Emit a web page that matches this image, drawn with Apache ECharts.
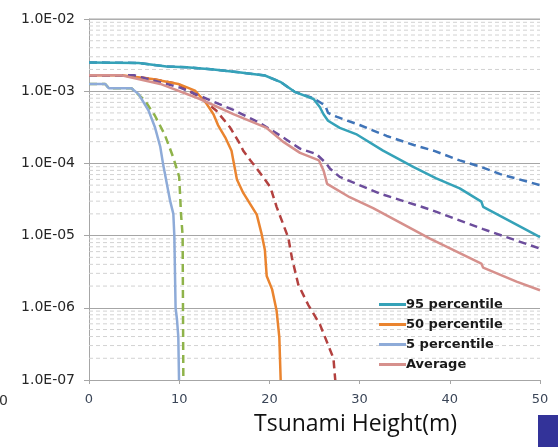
<!DOCTYPE html>
<html>
<head>
<meta charset="utf-8">
<script src="https://cdn.jsdelivr.net/npm/echarts@6/dist/echarts.min.js"></script>
<style>
  html, body { margin: 0; padding: 0; background: #fff; }
  #chart { width: 558px; height: 447px; }
</style>
</head>
<body>
<div id="chart"></div>
<script>
// [tsunami height (m), exceedance probability]
const p95 = [[0,2.5e-3],[5.5,2.46e-3],[8.6,2.2e-3],[10.8,2.15e-3],[13.8,2.0e-3],[16.8,1.82e-3],[19.5,1.65e-3],[21.2,1.35e-3],[22.8,9.8e-4],[24.9,7.8e-4],[25.6,6.0e-4],[26.0,4.8e-4],[26.5,3.9e-4],[27.8,3.1e-4],[29.6,2.55e-4],[32.6,1.5e-4],[36.0,8.9e-5],[38.5,6.2e-5],[41.1,4.5e-5],[43.5,2.95e-5],[43.7,2.5e-5],[50,9.5e-6]];
const p95Dash = [[0,2.5e-3],[5.5,2.46e-3],[8.6,2.2e-3],[10.8,2.15e-3],[13.8,2.0e-3],[16.8,1.82e-3],[19.5,1.65e-3],[21.2,1.35e-3],[22.8,9.8e-4],[24.9,8.0e-4],[26.2,6.3e-4],[26.5,5.0e-4],[27.5,4.4e-4],[30.0,3.4e-4],[33.0,2.4e-4],[36.0,1.8e-4],[38.2,1.5e-4],[41.1,1.1e-4],[43.3,9.1e-5],[45.6,7.1e-5],[50,5.0e-5]];
const p50 = [[0,1.66e-3],[3.6,1.66e-3],[7.0,1.48e-3],[9.9,1.26e-3],[11.75,1.02e-3],[13.0,6.8e-4],[13.8,4.8e-4],[14.3,3.4e-4],[15.1,2.3e-4],[15.8,1.5e-4],[16.0,1.1e-4],[16.4,6.0e-5],[17.1,3.9e-5],[18.6,1.95e-5],[19.1,1.1e-5],[19.5,6.3e-6],[19.7,2.75e-6],[20.3,1.8e-6],[20.8,9.1e-7],[21.1,3.9e-7],[21.25,1e-7]];
const p50Dash = [[0,1.66e-3],[3.6,1.66e-3],[7.0,1.48e-3],[9.9,1.26e-3],[12.3,8.2e-4],[14.1,5.4e-4],[15.6,3.2e-4],[16.7,1.9e-4],[17.1,1.5e-4],[17.9,1.1e-4],[19.3,6.5e-5],[20.1,4.7e-5],[20.8,2.5e-5],[22.1,9.3e-6],[22.5,4.9e-6],[23.2,2.1e-6],[24.3,1.1e-6],[25.6,5.9e-7],[27.1,2.0e-7],[27.3,1e-7]];
const p5 = [[0,1.26e-3],[1.8,1.26e-3],[2.2,1.1e-3],[4.7,1.1e-3],[5.5,9.1e-4],[6.6,5.4e-4],[7.3,3.2e-4],[7.9,1.7e-4],[8.2,1e-4],[8.35,8e-5],[9.0,3e-5],[9.35,2e-5],[9.46,1e-5],[9.6,1.0e-6],[9.75,7e-7],[9.9,4e-7],[9.98,1e-7]];
const p5Dash = [[0,1.26e-3],[1.8,1.26e-3],[2.2,1.1e-3],[4.7,1.1e-3],[6.2,7.4e-4],[7.3,4.6e-4],[8.4,2.5e-4],[9.35,1.2e-4],[10.0,6.5e-5],[10.2,2.0e-5],[10.38,1e-5],[10.46,1e-7]];
const avg = [[0,1.66e-3],[3.6,1.66e-3],[7.9,1.26e-3],[12.3,7.8e-4],[16.0,4.8e-4],[19.7,3.1e-4],[21.5,2.0e-4],[23.4,1.4e-4],[25.5,1.1e-4],[26.0,8e-5],[26.4,5.2e-5],[28.9,3.4e-5],[31.5,2.4e-5],[37.8,9.1e-6],[43.5,4.1e-6],[43.7,3.6e-6],[47.4,2.3e-6],[50,1.75e-6]];
const avgDash = [[0,1.66e-3],[5,1.66e-3],[10.1,1.12e-3],[16.0,5.5e-4],[19.0,3.6e-4],[21.5,2.3e-4],[23.4,1.6e-4],[25.2,1.35e-4],[26.3,1.0e-4],[26.7,8.5e-5],[27.8,6.5e-5],[32.3,3.8e-5],[37.8,2.3e-5],[43.7,1.23e-5],[50,6.6e-6]];

const legendNames = ['95 percentile', '50 percentile', '5 percentile', 'Average'];
const xTicks = [0, 10, 20, 30, 40, 50];

// light dashed grid lines at 2..9 of each decade
const minorValues = [];
for (let e = -7; e < -2; e++) {
  for (let m = 2; m <= 9; m++) minorValues.push(m * Math.pow(10, e));
}

function sci(v) {
  const e = Math.round(Math.log10(v));
  const m = v / Math.pow(10, e);
  const a = Math.abs(e);
  return m.toFixed(1) + 'E' + (e < 0 ? '-' : '+') + (a < 10 ? '0' : '') + a;
}

function line(name, data, color, dashed) {
  return {
    name: name,
    type: 'line',
    data: data,
    showSymbol: false,
    symbol: 'none',
    smooth: false,
    lineStyle: { color: color, width: 2.5, type: dashed ? [8, 5] : 'solid' },
    itemStyle: { color: color },
    z: 3
  };
}

function gridLine(v, style) {
  return {
    name: 'grid',
    type: 'line',
    data: [[0, v], [50, v]],
    symbol: 'none',
    showSymbol: false,
    silent: true,
    z: 1,
    lineStyle: style
  };
}

const minorSeries = minorValues.map(v => gridLine(v, { color: '#d2d2d2', width: 1, type: [4, 3] }));
const topBorder = gridLine(1e-2, { color: '#b0b0b0', width: 1.5, type: 'solid' });

const chart = echarts.init(document.getElementById('chart'));
chart.setOption({
  animation: false,
  grid: { left: 89, right: 18, top: 19, bottom: 67 },
  legend: {
    data: legendNames,
    orient: 'vertical',
    left: 374,
    top: 292,
    itemGap: 5,
    itemWidth: 27,
    itemHeight: 3,
    icon: 'rect',
    textStyle: { fontFamily: 'DejaVu Sans', fontWeight: 'bold', fontSize: 13, color: '#1a1a1a', padding: [0, 0, 0, -5], lineHeight: 15 }
  },
  xAxis: {
    type: 'value',
    min: 0,
    max: 50,
    interval: 10,
    axisLine: { show: true, lineStyle: { color: '#a6a6a6' } },
    axisTick: { show: true, length: 4, lineStyle: { color: '#a6a6a6' } },
    splitLine: { show: false },
    axisLabel: {
      margin: 13,
      fontFamily: 'DejaVu Sans',
      fontSize: 13,
      color: '#3b4658',
      formatter: v => (xTicks.indexOf(v) >= 0 ? String(v) : '')
    }
  },
  yAxis: {
    type: 'log',
    logBase: 10,
    min: 1e-7,
    max: 1e-2,
    axisLine: { show: true, lineStyle: { color: '#a6a6a6' } },
    axisTick: { show: true, length: 5, lineStyle: { color: '#a6a6a6' } },
    splitLine: { show: true, lineStyle: { color: '#a6a6a6', width: 1 } },
    axisLabel: {
      margin: 14,
      fontFamily: 'DejaVu Sans',
      fontSize: 14,
      color: '#262626',
      formatter: v => sci(v)
    }
  },
  graphic: [
    {
      type: 'text', left: 254, top: 413,
      style: { text: 'Tsunami Height(m)', fontFamily: 'Open Sans', fontSize: 23, fill: '#111' }
    },
    {
      type: 'text', left: -1, top: 394,
      style: { text: '0', fontFamily: 'DejaVu Sans', fontSize: 14, fill: '#333' }
    },
    {
      type: 'rect', shape: { x: 538, y: 415, width: 20, height: 32 },
      style: { fill: '#333399' }
    }
  ],
  series: minorSeries.concat([topBorder,
    line('95 percentile dashed', p95Dash, '#3f74b8', true),
    line('95 percentile', p95, '#35a2b8', false),
    line('50 percentile dashed', p50Dash, '#b3413f', true),
    line('50 percentile', p50, '#ea842f', false),
    line('5 percentile dashed', p5Dash, '#8fb34a', true),
    line('5 percentile', p5, '#8eabd8', false),
    line('Average dashed', avgDash, '#6c4d9c', true),
    line('Average', avg, '#d6908c', false)
  ])
});
</script>
</body>
</html>
